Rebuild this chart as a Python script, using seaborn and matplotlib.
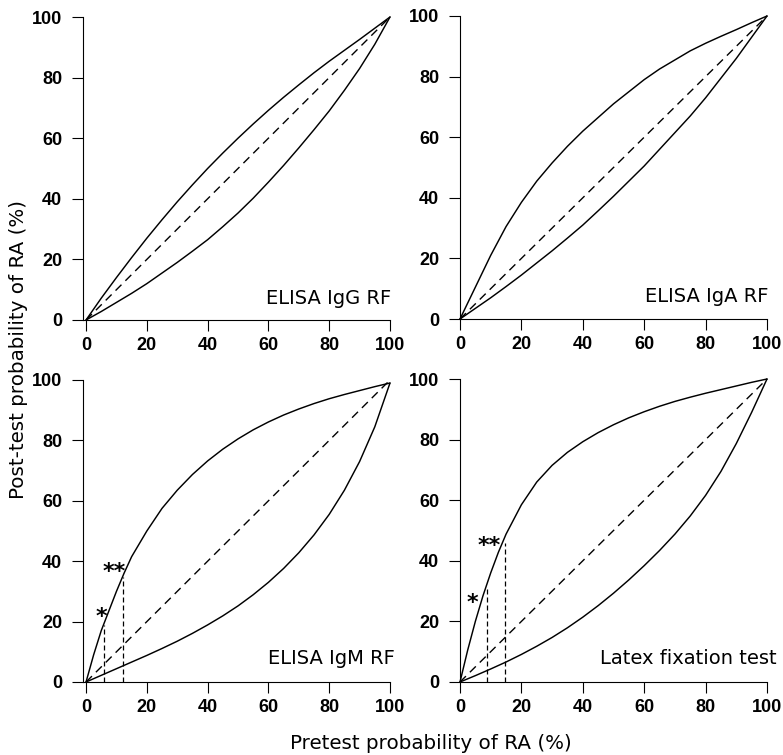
import matplotlib
matplotlib.use("Agg")
import matplotlib.pyplot as plt
import seaborn as sns
import pandas as pd

# Pretest probability grid (%) and post-test probabilities (%) for each test
igg_pre = [0, 5, 10, 15, 20, 25, 30, 35, 40, 45, 50, 55, 60, 65, 70, 75, 80, 85, 90, 95, 100]
igg_pos = [0, 7.2, 14, 20.6, 27, 33.1, 39, 44.6, 50, 55.1, 60, 64.7, 69.2, 73.5, 77.6, 81.6, 85.4, 89, 92.6, 96.3, 100]
igg_neg = [0, 2.8, 5.8, 8.8, 12, 15.5, 19, 22.7, 26.5, 30.8, 35.3, 40.2, 45.5, 51, 56.8, 62.8, 69, 75.8, 83, 91, 100]

iga_pre = [0, 5, 10, 15, 20, 25, 30, 35, 40, 45, 50, 55, 60, 65, 70, 75, 80, 85, 90, 95, 100]
iga_pos = [0, 10.5, 21, 30.5, 38.5, 45.5, 51.5, 57, 62, 66.5, 71, 75, 79, 82.5, 85.5, 88.5, 91, 93.3, 95.5, 97.8, 100]
iga_neg = [0, 3.5, 7, 10.7, 14.5, 18.5, 22.5, 26.7, 31, 35.7, 40.5, 45.5, 50.5, 56, 61.5, 67, 73, 79.5, 86, 93, 100]

igm_pre_pos = [0, 2.5, 5, 7.5, 10, 12.5, 15, 20, 25, 30, 35, 40, 45, 50, 55, 60, 65, 70, 75, 80, 85, 90, 95, 100]
igm_pos = [0, 9, 17, 23.5, 30, 36, 41.5, 50, 57.5, 63.5, 68.7, 73.2, 77.1, 80.5, 83.5, 86.1, 88.4, 90.4, 92.2, 93.8, 95.2, 96.5, 97.8, 99]
igm_pre_neg = [0, 5, 10, 15, 20, 25, 30, 35, 40, 45, 50, 55, 60, 65, 70, 75, 80, 85, 90, 95, 100]
igm_neg = [0, 2.2, 4.4, 6.6, 8.8, 11.1, 13.5, 16.1, 18.9, 21.9, 25.2, 28.9, 33, 37.6, 42.8, 48.7, 55.5, 63.5, 73, 84.5, 99]

latex_pre_pos = [0, 2.5, 5, 7.5, 10, 12.5, 15, 20, 25, 30, 35, 40, 45, 50, 55, 60, 65, 70, 75, 80, 85, 90, 95, 100]
latex_pos = [0, 10.5, 20, 28.5, 36, 42.8, 48.8, 58.5, 66, 71.5, 75.8, 79.3, 82.3, 84.9, 87.2, 89.2, 91, 92.6, 94, 95.3, 96.5, 97.7, 98.9, 100]
latex_pre_neg = [0, 5, 10, 15, 20, 25, 30, 35, 40, 45, 50, 55, 60, 65, 70, 75, 80, 85, 90, 95, 100]
latex_neg = [0, 2.1, 4.3, 6.6, 9.1, 11.8, 14.7, 17.9, 21.4, 25.2, 29.3, 33.7, 38.4, 43.4, 48.8, 54.8, 61.6, 69.5, 78.7, 89, 100]

# Line of no diagnostic value
diag = [0, 100]

# Marked pretest thresholds (x) and the post-test value each reaches (y)
igm_mark_x = [6, 12]
igm_mark_y = [18.8, 34.8]
latex_mark_x = [8.7, 14.8]
latex_mark_y = [30.6, 46.0]

# Asterisk annotations: text, x, y
igm_stars = [("*", 5.2, 22.9), ("**", 9.3, 37.8)]
latex_stars = [("*", 4.1, 27.5), ("**", 9.6, 46.3)]

panel_titles = ["ELISA IgG RF", "ELISA IgA RF", "ELISA IgM RF", "Latex fixation test"]
ticks = [0, 20, 40, 60, 80, 100]

sns.set_style("ticks")
plt.rcParams["font.family"] = ["DejaVu Sans"]
plt.rcParams["text.color"] = "black"
plt.rcParams["xtick.color"] = "black"
plt.rcParams["ytick.color"] = "black"
plt.rcParams["axes.labelcolor"] = "black"
TICK_FONT = ["Liberation Sans", "DejaVu Sans"]

W, H = 783, 755
fig = plt.figure(figsize=(W / 100, H / 100), dpi=100)


def make_axes(left_px, top_px, width_px, height_px):
    return fig.add_axes([left_px / W, 1 - (top_px + height_px) / H, width_px / W, height_px / H])


ax1 = make_axes(83, 17, 307, 303)
ax2 = make_axes(460, 16, 307, 303)
ax3 = make_axes(83, 380, 307, 302)
ax4 = make_axes(460, 379, 307, 303)

panels = [
    (ax1, igg_pre, igg_pos, igg_pre, igg_neg, -1, (100.3, 5.2)),
    (ax2, iga_pre, iga_pos, iga_pre, iga_neg, 0, (100.5, 5.7)),
    (ax3, igm_pre_pos, igm_pos, igm_pre_neg, igm_neg, -1, (101.5, 6.0)),
    (ax4, latex_pre_pos, latex_pos, latex_pre_neg, latex_neg, 0, (103.0, 6.0)),
]

for (ax, xp, yp, xn, yn, xmin, tpos), title in zip(panels, panel_titles):
    pos_df = pd.DataFrame({"pre": xp, "post": yp})
    neg_df = pd.DataFrame({"pre": xn, "post": yn})
    diag_df = pd.DataFrame({"pre": diag, "post": diag})
    sns.lineplot(data=pos_df, x="pre", y="post", ax=ax, color="black", lw=1.05,
                 sort=False, estimator=None, clip_on=False)
    sns.lineplot(data=neg_df, x="pre", y="post", ax=ax, color="black", lw=1.05,
                 sort=False, estimator=None, clip_on=False)
    sns.lineplot(data=diag_df, x="pre", y="post", ax=ax, color="black", lw=1.0,
                 sort=False, estimator=None, linestyle=(0, (6, 4)), clip_on=False)
    ax.set_xlim(xmin, 100)
    ax.set_ylim(0, 100)
    ax.set_xticks(ticks)
    ax.set_yticks(ticks)
    ax.set_xlabel("")
    ax.set_ylabel("")
    sns.despine(ax=ax)
    for side in ("left", "bottom"):
        ax.spines[side].set_linewidth(0.8)
        ax.spines[side].set_color("black")
    ax.tick_params(axis="both", direction="out", length=8, width=0.8,
                   color="black", labelcolor="black")
    ax.tick_params(axis="y", pad=7)
    ax.tick_params(axis="x", pad=4)
    for lab in ax.get_xticklabels() + ax.get_yticklabels():
        lab.set_fontsize(13)
        lab.set_fontweight("bold")
        lab.set_fontfamily(TICK_FONT)
        lab.set_color("black")
    ax.text(tpos[0], tpos[1], title, ha="right", va="baseline", fontsize=14,
            color="black", clip_on=False)

# Threshold markers on the IgM and latex panels
for ax, mx, my, stars in [(ax3, igm_mark_x, igm_mark_y, igm_stars),
                          (ax4, latex_mark_x, latex_mark_y, latex_stars)]:
    ax.vlines(mx, 0, my, colors="black", lw=0.9, linestyles=[(0, (4, 2.4))])
    for s, sx, sy in stars:
        ax.text(sx, sy - 1.5, s, ha="center", va="center", fontsize=16, fontweight="bold",
                color="black")

fig.text(431 / W, 6 / H, "Pretest probability of RA (%)", ha="center", va="baseline",
         fontsize=14.3, color="black")
fig.text(19 / W, 1 - 350 / H, "Post-test probability of RA (%)", ha="center", va="center",
         rotation=90, fontsize=14.3, color="black")

fig.savefig("out.png", dpi=100, facecolor="white")
